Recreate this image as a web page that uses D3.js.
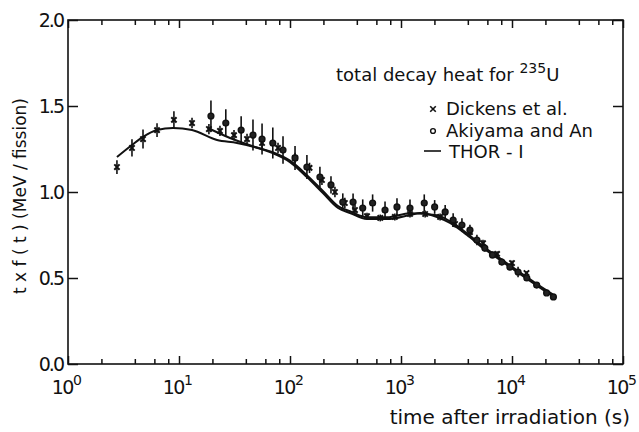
<!DOCTYPE html>
<html>
<head>
<meta charset="utf-8">
<script src="https://cdn.jsdelivr.net/npm/d3@7"></script>
<style>
  body { margin: 0; background: #fff; }
  text { font-family: "DejaVu Sans", "Liberation Sans", sans-serif; fill: #111; }
</style>
</head>
<body>
<svg id="chart" width="639" height="432"></svg>
<script>
// Dickens et al. (x markers)
var dickensT = [2.76, 3.77, 4.74, 6.34, 9.0, 13.1, 18.6, 23.4, 31.3, 41, 56, 78, 111, 150, 194, 254, 312, 385, 494, 650, 880, 1205, 1650, 2250, 3070, 4180, 5480, 7340, 10000, 13500]
var dickensV = [1.145, 1.256, 1.308, 1.36, 1.419, 1.401, 1.366, 1.355, 1.331, 1.308, 1.285, 1.256, 1.198, 1.14, 1.07, 1.0, 0.936, 0.895, 0.86, 0.849, 0.855, 0.872, 0.872, 0.855, 0.814, 0.767, 0.703, 0.64, 0.587, 0.529]
var dickensE = [0.04, 0.05, 0.055, 0.04, 0.05, 0.03, 0.03, 0.03, 0.03, 0.03, 0.03, 0.03, 0.03, 0.03, 0.03, 0.03, 0.03, 0.03, 0.02, 0.02, 0.02, 0.02, 0.02, 0.02, 0.02, 0.02, 0.02, 0.015, 0.015, 0.01]

// Akiyama and An (circles)
var akiT = [19.4, 26.4, 36.3, 46.4, 56, 70, 86.5, 111, 142, 186, 234, 299, 370, 452, 555, 718, 920, 1205, 1620, 2010, 2500, 2950, 3540, 4180, 4830, 5690, 6670, 8100, 9570, 11340, 13600, 16680, 20500, 23600]
var akiV = [1.442, 1.401, 1.36, 1.331, 1.308, 1.285, 1.244, 1.198, 1.145, 1.087, 1.041, 0.942, 0.942, 0.907, 0.936, 0.895, 0.913, 0.907, 0.936, 0.913, 0.884, 0.837, 0.808, 0.779, 0.721, 0.674, 0.634, 0.593, 0.564, 0.535, 0.5, 0.459, 0.413, 0.39]
var akiE = [0.09, 0.08, 0.08, 0.09, 0.09, 0.09, 0.08, 0.07, 0.07, 0.06, 0.05, 0.05, 0.05, 0.05, 0.05, 0.05, 0.05, 0.05, 0.05, 0.04, 0.04, 0.04, 0.04, 0.03, 0.03, 0.02, 0.02, 0.02, 0.02, 0.03, 0.015, 0.01, 0.01, 0.01]

// THOR-I calculation, Dickens irradiation conditions
var thorAT = [2.76, 3.77, 4.74, 6.34, 8.83, 13.1, 22, 33.3, 68.9, 100, 142, 198, 271, 347, 494, 748, 1205, 1483, 2110, 2760, 3930, 5480, 7800, 11090, 15460, 21100, 24900]
var thorAV = [1.203, 1.273, 1.32, 1.36, 1.372, 1.36, 1.302, 1.285, 1.227, 1.174, 1.087, 0.994, 0.907, 0.878, 0.843, 0.843, 0.866, 0.878, 0.855, 0.82, 0.75, 0.674, 0.605, 0.535, 0.471, 0.413, 0.384]
// THOR-I calculation, Akiyama irradiation conditions
var thorBT = [18.2, 28.8, 48.4, 68.9, 100, 142, 198, 271, 347, 494, 748, 1205, 2110, 2760, 3930, 5480, 7800, 11090, 15460, 21100, 23300]
var thorBV = [1.372, 1.314, 1.262, 1.233, 1.182, 1.098, 1.006, 0.918, 0.888, 0.853, 0.853, 0.877, 0.865, 0.83, 0.76, 0.684, 0.614, 0.544, 0.48, 0.422, 0.405]

var xTicks = [1, 10, 100, 1000, 10000, 100000]
var yTicks = [0, 0.5, 1.0, 1.5, 2.0]
var yTickLabels = ["0.0", "0.5", "1.0", "1.5", "2.0"]

var mL = 68, mR = 623, mT = 20, mB = 364

var svg = d3.select("#chart")
var x = d3.scaleLog().domain([1, 1e5]).range([mL, mR])
var y = d3.scaleLinear().domain([0, 2]).range([mB, mT])

// minor ticks at 2,4,6,8 in each decade
var minor = []
for (var d = 1; d < 1e5; d *= 10) {
  [2, 4, 6, 8].forEach(function(m) { minor.push(d * m) })
}

var g = svg.append("g")
// frame
g.append("rect").attr("x", mL).attr("y", mT).attr("width", mR - mL).attr("height", mB - mT)
  .attr("fill", "none").attr("stroke", "#111").attr("stroke-width", 1.6)

// x ticks bottom & top (inward)
g.append("g").attr("transform", `translate(0,${mB})`).call(d3.axisTop(x).tickValues(xTicks).tickSize(8).tickFormat(""))
g.append("g").attr("transform", `translate(0,${mB})`).call(d3.axisTop(x).tickValues(minor).tickSize(5).tickFormat(""))
g.append("g").attr("transform", `translate(0,${mT})`).call(d3.axisBottom(x).tickValues(xTicks).tickSize(8).tickFormat(""))
g.append("g").attr("transform", `translate(0,${mT})`).call(d3.axisBottom(x).tickValues(minor).tickSize(5).tickFormat(""))
// y ticks left & right (inward)
g.append("g").attr("transform", `translate(${mL},0)`).call(d3.axisRight(y).tickValues(yTicks).tickSize(10).tickFormat(""))
g.append("g").attr("transform", `translate(${mR},0)`).call(d3.axisLeft(y).tickValues(yTicks).tickSize(10).tickFormat(""))
g.selectAll(".domain").remove()
g.selectAll(".tick line").attr("stroke", "#111").attr("stroke-width", 1.5)

// y tick labels
svg.selectAll(".ylab").data(yTicks).enter().append("text")
  .attr("x", mL - 5).attr("y", function(d) { return y(d) + 7 })
  .attr("text-anchor", "end").attr("font-size", 19).attr("letter-spacing", -2)
  .text(function(d, i) { return yTickLabels[i] })

// x tick labels 10^n
xTicks.forEach(function(t) {
  var lab = svg.append("text").attr("x", x(t) - 2).attr("y", 394).attr("text-anchor", "middle").attr("font-size", 19).attr("letter-spacing", -1.5)
  lab.append("tspan").text("10")
  lab.append("tspan").attr("dy", -9).attr("font-size", 14).text(Math.round(Math.log10(t)))
})

// axis titles
svg.append("text").attr("x", 630).attr("y", 424).attr("text-anchor", "end").attr("font-size", 20)
  .text("time after irradiation (s)")
svg.append("text").attr("transform", "translate(26,196) rotate(-90)").attr("text-anchor", "middle").attr("font-size", 17)
  .text("t x f ( t ) (MeV / fission)")

// lines
var line = d3.line().x(function(d) { return x(d[0]) }).y(function(d) { return y(d[1]) }).curve(d3.curveMonotoneX)
svg.append("path").datum(d3.zip(thorAT, thorAV)).attr("d", line)
  .attr("fill", "none").attr("stroke", "#111").attr("stroke-width", 2)
svg.append("path").datum(d3.zip(thorBT, thorBV)).attr("d", line)
  .attr("fill", "none").attr("stroke", "#111").attr("stroke-width", 2)

// error bars
function errBars(ts, vs, es) {
  svg.append("g").selectAll("line").data(d3.range(ts.length)).enter().append("line")
    .attr("x1", function(i) { return x(ts[i]) }).attr("x2", function(i) { return x(ts[i]) })
    .attr("y1", function(i) { return y(vs[i] - es[i]) }).attr("y2", function(i) { return y(vs[i] + es[i]) })
    .attr("stroke", "#111").attr("stroke-width", 1.6)
}
errBars(dickensT, dickensV, dickensE)
errBars(akiT, akiV, akiE)

// Dickens x markers
var cross = d3.symbol().type(d3.symbolX).size(20)
svg.append("g").selectAll("path").data(d3.zip(dickensT, dickensV)).enter().append("path")
  .attr("d", cross).attr("transform", function(d) { return `translate(${x(d[0])},${y(d[1])})` })
  .attr("fill", "none").attr("stroke", "#111").attr("stroke-width", 2)
// Akiyama circles
svg.append("g").selectAll("circle").data(d3.zip(akiT, akiV)).enter().append("circle")
  .attr("cx", function(d) { return x(d[0]) }).attr("cy", function(d) { return y(d[1]) }).attr("r", 2.9)
  .attr("fill", "#222").attr("stroke", "#111").attr("stroke-width", 1.4)

// title
var title = svg.append("text").attr("x", 336).attr("y", 81).attr("font-size", 18)
title.append("tspan").text("total decay heat for ")
title.append("tspan").attr("dy", -8).attr("font-size", 14).text("235")
title.append("tspan").attr("dy", 8).text("U")

// legend
var lx = 433
svg.append("path").attr("d", d3.symbol().type(d3.symbolX).size(22)).attr("transform", `translate(${lx},109)`)
  .attr("fill", "none").attr("stroke", "#111").attr("stroke-width", 1.6)
svg.append("text").attr("x", lx + 13).attr("y", 115).attr("font-size", 18).text("Dickens  et  al.")
svg.append("circle").attr("cx", lx).attr("cy", 131).attr("r", 2.4).attr("fill", "none").attr("stroke", "#111").attr("stroke-width", 1.4)
svg.append("text").attr("x", lx + 13).attr("y", 137).attr("font-size", 18).text("Akiyama and An")
svg.append("line").attr("x1", lx - 9).attr("x2", lx + 8).attr("y1", 151).attr("y2", 151).attr("stroke", "#111").attr("stroke-width", 1.6)
svg.append("text").attr("x", lx + 16).attr("y", 158).attr("font-size", 18).text("THOR - I")
</script>
</body>
</html>
